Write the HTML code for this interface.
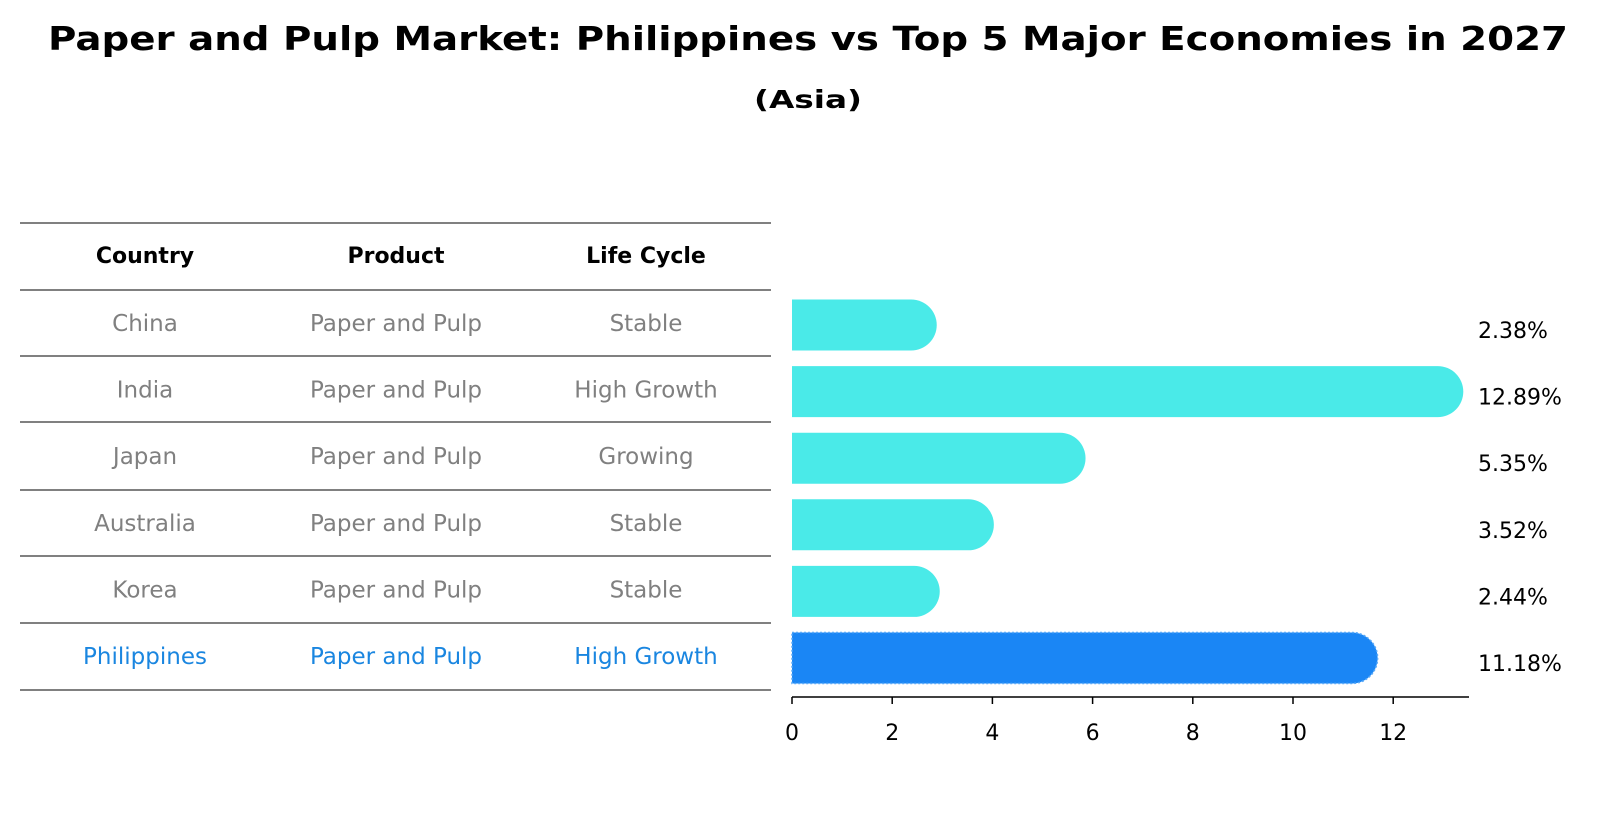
<!DOCTYPE html>
<html><head><meta charset="utf-8"><style>
body{margin:0;background:#fff;font-family:"DejaVu Sans","Liberation Sans",sans-serif;}
</style></head><body>
<svg width="1604" height="823" xmlns="http://www.w3.org/2000/svg" font-family="DejaVu Sans, Liberation Sans, sans-serif">
<text x="808" y="50" text-anchor="middle" font-size="33" font-weight="bold" textLength="1520" lengthAdjust="spacingAndGlyphs">Paper and Pulp Market: Philippines vs Top 5 Major Economies in 2027</text>
<text x="808" y="108" text-anchor="middle" font-size="25" font-weight="bold" textLength="108" lengthAdjust="spacingAndGlyphs">(Asia)</text>
<g id="table"></g>
<g id="bars"></g>
<g id="axis"></g>
</svg>
<script>
const countries=["China","India","Japan","Australia","Korea","Philippines"];
const products=["Paper and Pulp","Paper and Pulp","Paper and Pulp","Paper and Pulp","Paper and Pulp","Paper and Pulp"];
const lifeCycles=["Stable","High Growth","Growing","Stable","Stable","High Growth"];
const values=[2.38,12.89,5.35,3.52,2.44,11.18];
const ticks=[0,2,4,6,8,10,12];
const NS="http://www.w3.org/2000/svg";
function mk(t,a,p){const e=document.createElementNS(NS,t);for(const k in a)e.setAttribute(k,a[k]);p.appendChild(e);return e;}
const x0=792,ppu=50.1,xs=v=>x0+v*ppu;
const rowY=i=>323+i*66.6;
const table=document.getElementById('table');
const lines=[223,290,356,422,490,556,623,690];
lines.forEach((y,i)=>{const l=mk('line',{x1:20,x2:771,y1:y,y2:y,stroke:'#000','stroke-width':1},table);

});
const cols=[145,396,646];
["Country","Product","Life Cycle"].forEach((h,j)=>{const t=mk('text',{x:cols[j],y:263,'text-anchor':'middle','font-size':22,'font-weight':'bold'},table);t.textContent=h;

});
countries.forEach((c,i)=>{const col=i===countries.length-1?'#1a86e0':'#808080';
[c,products[i],lifeCycles[i]].forEach((v,j)=>{const t=mk('text',{x:cols[j],y:rowY(i)+8,'text-anchor':'middle','font-size':23,fill:col},table);t.textContent=v;

});});
const bars=document.getElementById('bars');
const h=51,r=25.5;
values.forEach((v,i)=>{const yc=rowY(i)+2,xe=xs(v);const isP=i===values.length-1;
const d=`M${x0},${yc-h/2} L${xe},${yc-h/2} A${r},${r} 0 0 1 ${xe},${yc+h/2} L${x0},${yc+h/2} Z`;
const p=mk('path',{d:d,fill:isP?'#1a86f5':'#4aeae8',stroke:isP?'#5aaaf8':'none','stroke-width':isP?1.5:0,'stroke-dasharray':isP?'2,2':''},bars);


const t=mk('text',{x:1478,y:yc+13,'font-size':22},bars);t.textContent=v.toFixed(2)+'%';

});
const axis=document.getElementById('axis');
mk('line',{x1:x0,x2:1469,y1:697,y2:697,stroke:'#000','stroke-width':1.5},axis);
ticks.forEach(v=>{mk('line',{x1:xs(v),x2:xs(v),y1:697,y2:704,stroke:'#000','stroke-width':1.5},axis);
const t=mk('text',{x:xs(v),y:740,'text-anchor':'middle','font-size':22},axis);t.textContent=v;

});
</script>
</body></html>
